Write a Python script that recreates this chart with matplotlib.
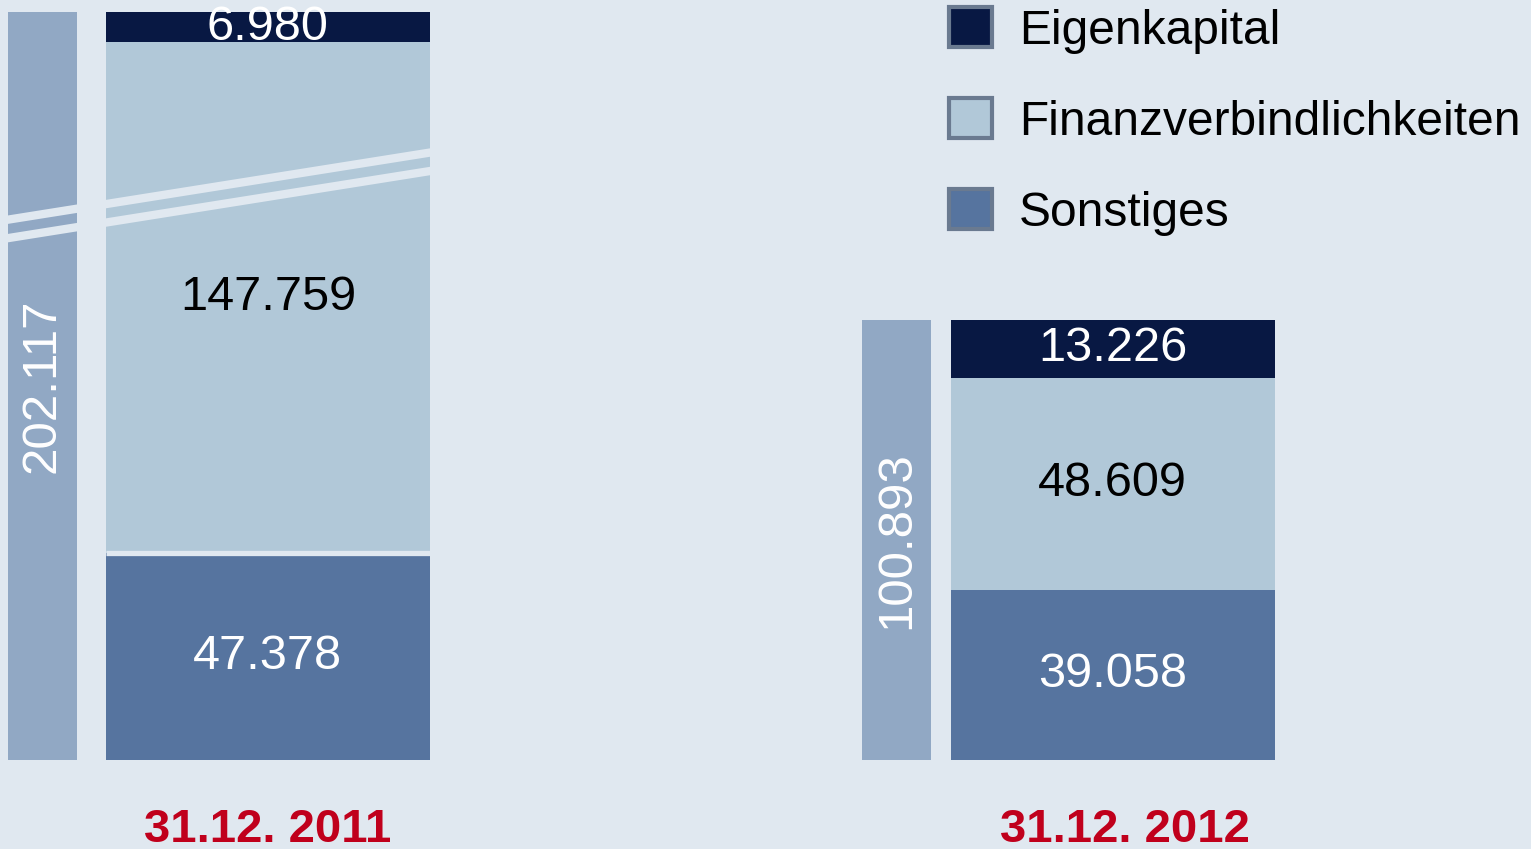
import numpy as np
import matplotlib
matplotlib.use("Agg")
from matplotlib import pyplot as plt
from matplotlib.patches import Patch
from matplotlib import transforms

plt.rcParams['font.family'] = ['Liberation Sans', 'DejaVu Sans']

# data (in TEUR)
dates = ['31.12. 2011', '31.12. 2012']
sonstiges = [47.378, 39.058]
finanz = [147.759, 48.609]
eigenkapital = [6.980, 13.226]
totals = [202.117, 100.893]

# colours
BG = '#e0e8f0'
C_TOTAL = '#91a8c4'
C_FIN = '#b1c8d8'
C_EIGEN = '#081843'
C_SONST = '#56749f'
C_DATE = '#c0001c'
C_LEGEND_EDGE = '#6a7a90'

# broken y axis: values between BREAK_LO and BREAK_HI are squeezed out
BREAK_LO = 130.0
CUT = 30.6
BREAK_HI = BREAK_LO + CUT


def fwd(y):
    y = np.asarray(y, dtype=float)
    return np.minimum(y, BREAK_LO) + np.maximum(y - BREAK_HI, 0)


def inv(z):
    z = np.asarray(z, dtype=float)
    return np.where(z > BREAK_LO, z + CUT, z)


fig = plt.figure(figsize=(15.31, 8.49), dpi=100, facecolor=BG)
ax = fig.add_axes([0, 89 / 849, 1, 760 / 849])
ax.set_facecolor(BG)
ax.set_yscale('function', functions=(fwd, inv))
ax.set_xlim(-0.317, 1.495)
ax.set_ylim(0, float(inv(174.27)))
ax.axis('off')

x = np.arange(len(dates))
w_main = 0.3834
w_tot = 0.0817
off_tot = np.array([-0.267, -0.256])

bottoms = np.zeros(len(dates))
seg_colors = [C_SONST, C_FIN, C_EIGEN]
txt_colors = ['white', 'black', 'white']
for vals, col, tcol in zip([sonstiges, finanz, eigenkapital], seg_colors, txt_colors):
    vals = np.array(vals)
    ax.bar(x, vals, bottom=bottoms, width=w_main, color=col, linewidth=0)
    for xi, b, v in zip(x, bottoms, vals):
        yc = float(inv((fwd(b) + fwd(b + v)) / 2))
        ax.text(xi, yc, '{:.3f}'.format(v), ha='center', va='center',
                fontsize=35, color=tcol)
    bottoms = bottoms + vals

# total bars with rotated labels
ax.bar(x + off_tot, totals, width=w_tot, color=C_TOTAL, linewidth=0)
for xi, t in zip(x + off_tot, totals):
    yc = float(inv(fwd(t) / 2))
    ax.text(xi, yc, '{:.3f}'.format(t), ha='center', va='center',
            rotation=90, fontsize=35.5, color='white')

# small gap between Sonstiges and Finanzverbindlichkeiten in 2011
ax.plot([x[0] - w_main / 2, x[0] + w_main / 2], [sonstiges[0], sonstiges[0]],
        color=BG, lw=3.8, solid_capstyle='butt')

# break marks (two slanted stripes in background colour)
for y0, y1 in [(0.7093, 0.8022), (0.685, 0.7779)]:
    ax.plot([0.0, 0.29], [y0, y1], transform=ax.transAxes,
            color=BG, lw=6, solid_capstyle='butt')

# date labels
trans = transforms.blended_transform_factory(ax.transData, fig.transFigure)
for xi, d in zip(x + np.array([0.0, 0.014]), dates):
    ax.text(xi, 7 / 849, d, transform=trans, ha='center', va='baseline',
            fontsize=34, fontweight='bold', color=C_DATE)

# legend
handles = [Patch(facecolor=C_EIGEN, edgecolor=C_LEGEND_EDGE, linewidth=3),
           Patch(facecolor=C_FIN, edgecolor=C_LEGEND_EDGE, linewidth=3),
           Patch(facecolor=C_SONST, edgecolor=C_LEGEND_EDGE, linewidth=3)]
fig.legend(handles, ['Eigenkapital', 'Finanzverbindlichkeiten', 'Sonstiges'],
           loc='upper left', bbox_to_anchor=(942 / 1531, 1.0), frameon=False,
           fontsize=34.5, handlelength=0.9, handleheight=0.9, handletextpad=0.55,
           labelspacing=0.93, borderpad=0.15, borderaxespad=0)

fig.savefig('out.png', dpi=100, facecolor=BG)
